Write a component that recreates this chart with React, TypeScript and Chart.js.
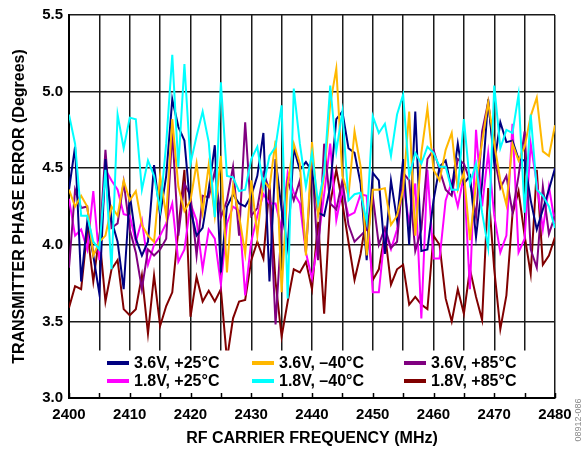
import React, { useEffect, useRef } from "react";
import { Chart, registerables } from "chart.js";

Chart.register(...registerables);

const FREQ = [
  2400, 2401, 2402, 2403, 2404, 2405, 2406, 2407, 2408, 2409,
  2410, 2411, 2412, 2413, 2414, 2415, 2416, 2417, 2418, 2419,
  2420, 2421, 2422, 2423, 2424, 2425, 2426, 2427, 2428, 2429,
  2430, 2431, 2432, 2433, 2434, 2435, 2436, 2437, 2438, 2439,
  2440, 2441, 2442, 2443, 2444, 2445, 2446, 2447, 2448, 2449,
  2450, 2451, 2452, 2453, 2454, 2455, 2456, 2457, 2458, 2459,
  2460, 2461, 2462, 2463, 2464, 2465, 2466, 2467, 2468, 2469,
  2470, 2471, 2472, 2473, 2474, 2475, 2476, 2477, 2478, 2479, 2480,
];

const V36_P25 = [
  4.36, 4.64, 3.76, 4.15, 3.93, 3.68, 4.56, 4.16, 4.02, 3.71,
  4.33, 4.04, 3.93, 4.02, 4.52, 4.19, 4.45, 4.95, 4.77, 4.68,
  4.23, 4.06, 4.11, 4.36, 4.65, 3.82, 4.25, 4.33, 4.27, 4.25,
  4.32, 4.45, 4.73, 3.76, 4.56, 4.23, 3.98, 4.63, 4.49, 4.54,
  4.48, 4.21, 4.19, 4.38, 4.82, 4.87, 4.63, 4.60, 4.40, 3.90,
  4.47, 4.42, 3.94, 4.42, 4.16, 4.56, 4.00, 4.87, 3.96, 3.97,
  4.29, 4.51, 4.55, 4.36, 4.66, 4.40, 4.45, 4.05, 4.40, 4.95,
  4.53, 4.80, 4.67, 4.68, 4.56, 4.55, 4.29, 4.10, 4.23, 4.36, 4.50,
];

const V36_M40 = [
  4.36, 4.25, 4.32, 4.25, 3.93, 4.02, 4.06, 4.25, 4.19, 4.42,
  4.29, 4.35, 4.13, 4.06, 4.02, 4.45, 4.19, 4.82, 4.38, 4.22,
  4.29, 4.53, 4.21, 4.52, 4.19, 4.58, 3.82, 4.38, 4.19, 3.94,
  4.42, 4.06, 4.42, 4.37, 4.68, 3.69, 4.40, 4.66, 4.53, 3.93,
  4.67, 4.19, 4.45, 4.92, 5.15, 4.45, 4.32, 4.74, 4.51, 3.93,
  4.36, 4.36, 4.37, 4.13, 4.19, 4.36, 4.87, 4.06, 4.60, 4.89,
  4.49, 4.42, 4.62, 4.73, 4.36, 4.47, 4.03, 4.40, 4.67, 4.93,
  4.66, 4.42, 4.26, 4.66, 4.55, 4.64, 4.84, 4.96, 4.61, 4.58, 4.78,
];

const V36_P85 = [
  3.85, 4.36, 4.24, 4.25, 3.94, 3.98, 4.62, 4.11, 4.14, 4.41,
  4.10, 3.95, 3.71, 3.97, 3.93, 3.97, 4.04, 4.74, 4.06, 4.40,
  4.32, 3.93, 4.32, 4.31, 4.48, 4.18, 4.29, 4.51, 4.06, 4.80,
  4.19, 4.24, 4.47, 4.36, 3.48, 4.13, 4.42, 4.29, 4.42, 3.95,
  4.55, 3.90, 4.66, 4.27, 4.23, 4.42, 4.13, 4.02, 4.06, 4.10,
  4.32, 4.00, 4.11, 3.98, 4.02, 4.47, 4.42, 3.96, 4.10, 4.56,
  4.62, 4.49, 4.36, 4.32, 4.56, 4.53, 4.42, 4.18, 4.74, 4.93,
  4.58, 4.37, 4.45, 4.21, 4.45, 4.74, 3.97, 3.85, 4.38, 4.07, 4.19,
];

const V18_P25 = [
  4.30, 4.06, 4.10, 3.97, 4.35, 3.90, 4.49, 4.42, 4.36, 4.20,
  4.19, 4.02, 4.16, 3.87, 4.00, 4.06, 4.14, 4.27, 3.89, 3.97,
  4.27, 4.16, 3.84, 4.10, 4.04, 3.74, 4.14, 4.25, 4.22, 3.67,
  4.02, 4.19, 4.33, 4.27, 4.27, 4.10, 4.47, 4.34, 4.27, 3.95,
  3.78, 4.02, 4.33, 4.66, 4.16, 4.36, 4.19, 4.21, 4.33, 4.32,
  3.69, 3.69, 4.08, 3.97, 4.10, 4.40, 4.14, 4.40, 3.52, 4.49,
  3.91, 3.91, 4.29, 4.41, 4.25, 4.45, 3.71, 4.75, 4.25, 4.60,
  4.19, 3.95, 4.06, 4.79, 3.95, 4.04, 4.66, 4.40, 4.10, 4.38, 4.14,
];

const V18_M40 = [
  4.85, 4.66, 4.19, 4.19, 4.02, 3.97, 4.49, 3.84, 4.85, 4.63,
  4.83, 4.82, 4.36, 4.55, 4.45, 4.23, 4.66, 5.24, 4.51, 5.18,
  4.53, 4.71, 4.87, 4.67, 4.18, 5.06, 4.45, 4.44, 4.35, 4.36,
  4.56, 4.64, 4.38, 4.58, 4.64, 4.91, 3.65, 5.02, 4.66, 4.38,
  4.60, 4.27, 4.47, 5.04, 4.61, 4.87, 4.29, 4.33, 4.34, 4.15,
  4.84, 4.73, 4.79, 4.58, 4.85, 4.98, 4.45, 4.60, 4.53, 4.64,
  4.60, 4.51, 4.51, 4.36, 4.36, 4.82, 4.40, 4.53, 4.21, 3.98,
  5.04, 4.63, 4.75, 4.73, 4.98, 4.21, 4.85, 4.36, 4.32, 4.25, 4.11,
];

const V18_P85 = [
  3.59, 3.73, 3.71, 4.09, 3.76, 4.06, 3.63, 3.84, 3.90, 3.58,
  3.54, 3.58, 3.80, 3.42, 3.80, 3.47, 3.60, 3.69, 4.10, 4.49,
  3.53, 3.79, 3.63, 3.70, 3.63, 3.71, 3.25, 3.52, 3.63, 3.64,
  3.90, 4.02, 3.91, 4.39, 3.76, 3.40, 3.63, 3.84, 3.82, 3.89,
  3.71, 4.15, 3.55, 4.27, 4.49, 4.27, 4.02, 3.77, 3.94, 4.19,
  3.77, 3.84, 4.08, 3.74, 3.84, 3.87, 3.61, 3.66, 3.61, 3.58,
  4.06, 4.00, 3.65, 3.50, 3.71, 3.55, 3.84, 3.66, 3.51, 4.37,
  3.84, 3.45, 3.67, 4.20, 4.35, 4.06, 3.81, 4.49, 3.87, 3.93, 4.05,
];

const SERIES_LABELS = [
  "3.6V, +25°C",
  "3.6V, \u201340°C",
  "3.6V, +85°C",
  "1.8V, +25°C",
  "1.8V, \u201340°C",
  "1.8V, +85°C",
];
const SERIES_COLORS = ["#000080", "#FFB800", "#800080", "#FF00FF", "#00FFFF", "#800000"];
const SERIES_VALUES = [V36_P25, V36_M40, V36_P85, V18_P25, V18_M40, V18_P85];
const DRAW_ORDER = [4, 1, 0, 2, 3, 5];

const Y_TICKS = [3.0, 3.5, 4.0, 4.5, 5.0, 5.5];
const X_LABELED = [2400, 2410, 2420, 2430, 2440, 2450, 2460, 2470, 2480];
const X_MINOR = [2405, 2415, 2425, 2435, 2445, 2455, 2465, 2475];

const FONT = "'Liberation Sans', Arial, Helvetica, sans-serif";

const overlay = {
  id: "overlay",
  afterDatasetsDraw(chart: any) {
    const { ctx, chartArea: a, scales } = chart;
    const yTop = scales.y.getPixelForValue(3.31);
    ctx.save();
    ctx.fillStyle = "#ffffff";
    ctx.fillRect(a.left + 1, yTop, a.right - a.left - 2, a.bottom - yTop - 1);
    ctx.strokeStyle = "#000000";
    ctx.lineWidth = 1.5;
    for (const t of [...X_LABELED, ...X_MINOR]) {
      const x = Math.round(scales.x.getPixelForValue(t)) + 0.5;
      ctx.beginPath();
      ctx.moveTo(x, a.bottom);
      ctx.lineTo(x, a.bottom - 5);
      ctx.stroke();
    }
    const colX = [107, 252, 404];
    const rowY = [363, 381];
    ctx.font = `bold 16px ${FONT}`;
    ctx.textBaseline = "middle";
    ctx.textAlign = "left";
    for (let i = 0; i < 6; i++) {
      const c = i % 3;
      const r = Math.floor(i / 3);
      ctx.strokeStyle = SERIES_COLORS[i];
      ctx.lineWidth = 4;
      ctx.beginPath();
      ctx.moveTo(colX[c], rowY[r]);
      ctx.lineTo(colX[c] + 22, rowY[r]);
      ctx.stroke();
      ctx.fillStyle = "#000000";
      ctx.fillText(SERIES_LABELS[i], colX[c] + 27, rowY[r] + 1);
    }
    ctx.restore();
  },
  afterDraw(chart: any) {
    const { ctx } = chart;
    ctx.save();
    ctx.translate(579, 420);
    ctx.rotate(-Math.PI / 2);
    ctx.font = `9px ${FONT}`;
    ctx.fillStyle = "#8a8a8a";
    ctx.textAlign = "center";
    ctx.textBaseline = "middle";
    ctx.fillText("08912-086", 0, 0);
    ctx.restore();
  },
};

export default function App() {
  const ref = useRef<HTMLCanvasElement>(null);
  useEffect(() => {
    document.body.style.margin = "0";
    const canvas = ref.current;
    if (!canvas) return;
    const datasets = DRAW_ORDER.map((i) => ({
      label: SERIES_LABELS[i],
      data: FREQ.map((f, k) => ({ x: f, y: SERIES_VALUES[i][k] })),
      borderColor: SERIES_COLORS[i],
      backgroundColor: SERIES_COLORS[i],
      borderWidth: 2,
      pointRadius: 0,
      tension: 0,
      fill: false,
    }));
    const chart = new Chart(canvas, {
      type: "line",
      data: { datasets },
      plugins: [overlay],
      options: {
        animation: false,
        responsive: false,
        devicePixelRatio: 1,
        layout: { padding: { top: 10, right: 32, left: 0, bottom: 0 } },
        plugins: { legend: { display: false }, tooltip: { enabled: false } },
        scales: {
          x: {
            type: "linear",
            min: 2400,
            max: 2480,
            afterFit: (s: any) => { s.height = 54; },
            afterBuildTicks: (s: any) => {
              s.ticks = [...X_LABELED, ...X_MINOR].sort((p, q) => p - q).map((v) => ({ value: v }));
            },
            ticks: {
              autoSkip: false,
              maxRotation: 0,
              padding: 8,
              color: "#000",
              font: { family: FONT, size: 15, weight: "bold" },
              callback: (v: any) => (X_LABELED.includes(Number(v)) ? String(v) : ""),
            },
            grid: { color: "#1a1a1a", lineWidth: 1.5, drawTicks: false },
            border: { color: "#000", width: 2 },
            title: {
              display: true,
              text: "RF CARRIER FREQUENCY (MHz)",
              color: "#000",
              font: { family: FONT, size: 16, weight: "bold" },
              padding: { top: 0, bottom: 4 },
            },
          },
          y: {
            type: "linear",
            min: 3.0,
            max: 5.5,
            afterFit: (s: any) => { s.width = 69; },
            afterBuildTicks: (s: any) => {
              s.ticks = Y_TICKS.map((v) => ({ value: v }));
            },
            ticks: {
              padding: 6,
              color: "#000",
              font: { family: FONT, size: 15, weight: "bold" },
              callback: (v: any) => Number(v).toFixed(1),
            },
            grid: { color: "#1a1a1a", lineWidth: 1.5, drawTicks: false },
            border: { color: "#000", width: 2 },
            title: {
              display: true,
              text: "TRANSMITTER PHASE ERROR (Degrees)",
              color: "#000",
              font: { family: FONT, size: 16, weight: "bold" },
              padding: { top: 10, bottom: 0 },
            },
          },
        },
      },
    });
    return () => chart.destroy();
  }, []);
  return (
    <div style={{ width: 587, height: 452 }}>
      <canvas ref={ref} width={587} height={452} style={{ display: "block" }} />
    </div>
  );
}
